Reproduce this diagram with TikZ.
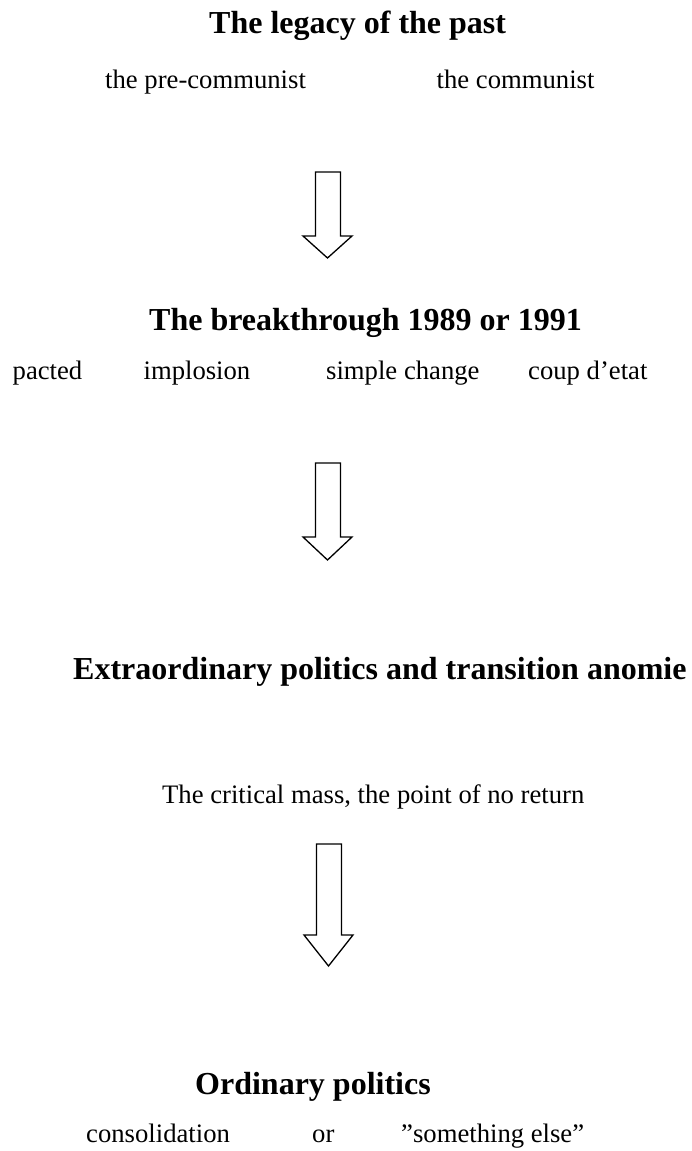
\documentclass[tikz,border=0pt]{standalone}
\usepackage{fontspec}
\setmainfont{Liberation Serif}
\begin{document}
\begin{tikzpicture}[x=1pt,y=-1pt,
  title/.style={anchor=base west,inner sep=0pt,font=\fontsize{32}{38}\selectfont\bfseries},
  label/.style={anchor=base west,inner sep=0pt,font=\fontsize{26.67}{32}\selectfont},
  blockarrow/.style={draw=black,line width=1.3pt,line join=miter,fill=white}]
\useasboundingbox (0,0) rectangle (691,1151);
% level 1
\node[title] (t1) at (209,33) {The legacy of the past};
\node[label] (l1a) at (105,88) {the pre-communist};
\node[label] (l1b) at (436.5,88) {the communist};
% arrow 1
\draw[blockarrow] (315.5,172) -- (340.5,172) -- (340.5,236) -- (352,236) -- (327.5,258) -- (303,236) -- (315.5,236) -- cycle;
% level 2
\node[title] (t2) at (149,330) {The breakthrough 1989 or 1991};
\node[label] (l2a) at (12.5,379) {pacted};
\node[label] (l2b) at (143.4,379) {implosion};
\node[label] (l2c) at (326,379) {simple change};
\node[label] (l2d) at (528,379) {coup d’etat};
% arrow 2
\draw[blockarrow] (315.5,463) -- (340.5,463) -- (340.5,537) -- (352,537) -- (327.5,560) -- (303,537) -- (315.5,537) -- cycle;
% level 3
\node[title] (t3) at (73,679) {Extraordinary politics and transition anomie};
\node[label] (l3) at (162,803) {The critical mass, the point of no return};
% arrow 3
\draw[blockarrow] (316.5,844) -- (341.5,844) -- (341.5,935) -- (353,935) -- (328.5,966) -- (304,935) -- (316.5,935) -- cycle;
% level 4
\node[title] (t4) at (195,1094) {Ordinary politics};
\node[label] (l4a) at (86,1142) {consolidation};
\node[label] (l4b) at (312,1142) {or};
\node[label] (l4c) at (401,1142) {”something else”};
\end{tikzpicture}
\end{document}
